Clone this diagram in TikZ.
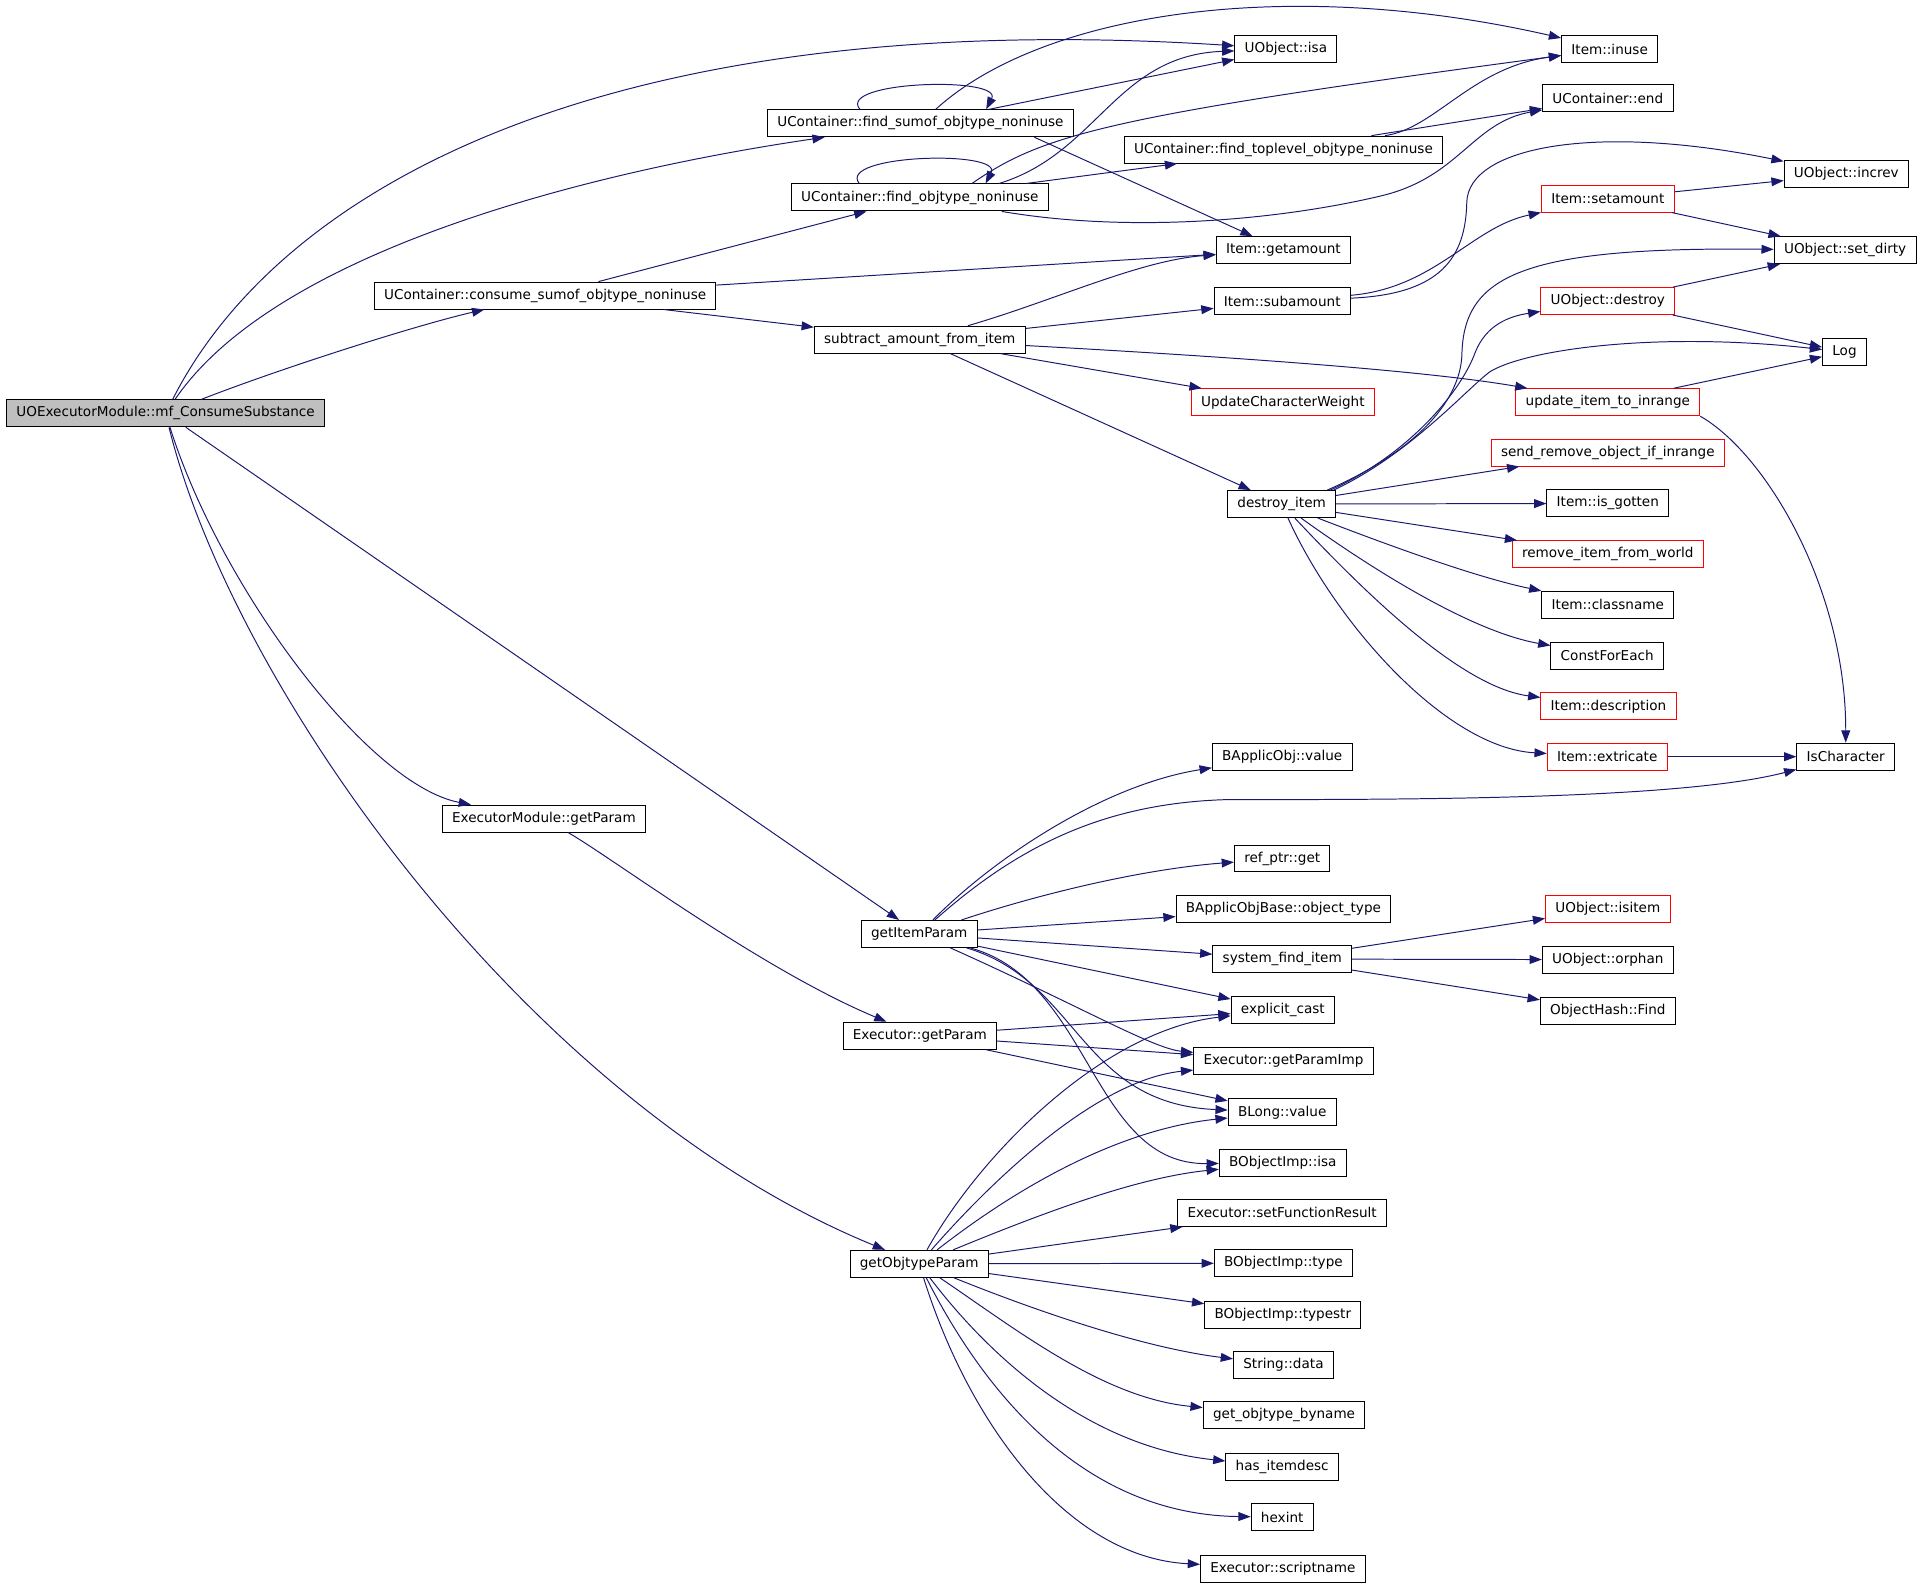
\documentclass[tikz,border=0pt]{standalone}
\usepackage{fontspec}
\setmainfont{DejaVu Sans}
\usepackage{tikz}
\usetikzlibrary{arrows.meta}

\definecolor{callblue}{RGB}{25,25,112}
\definecolor{rootgray}{RGB}{191,191,191}

\tikzset{
  fn/.style={draw=black, fill=white, line width=0.6pt, minimum height=16.5pt, inner xsep=6pt, inner ysep=0pt, font=\fontsize{8.3}{10}\selectfont},
  fnred/.style={fn, draw=red},
  fnroot/.style={fn, fill=rootgray},
  call/.style={draw=callblue, line width=0.6pt, -{Triangle[length=7.5pt,width=5.4pt]}}
}

\begin{document}
\begin{tikzpicture}[x=0.75pt,y=0.75pt,yscale=-1,xscale=1]
    \useasboundingbox (0,0) rectangle (1568,1294);

    % Caller
    \node[fnroot] (root) at (135,337) {UOExecutorModule::mf\_ConsumeSubstance};

    % Second column
    \node[fn] (fsum) at (750.5,100.5) {UContainer::find\_sumof\_objtype\_noninuse};
    \node[fn] (fobj) at (750,161) {UContainer::find\_objtype\_noninuse};
    \node[fn] (csum) at (444.5,241) {UContainer::consume\_sumof\_objtype\_noninuse};
    \node[fn] (subamt) at (750,277) {subtract\_amount\_from\_item};
    \node[fn] (emparam) at (443.5,667.5) {ExecutorModule::getParam};
    \node[fn] (itemparam) at (749.5,761.5) {getItemParam};
    \node[fn] (exparam) at (750,844.5) {Executor::getParam};
    \node[fn] (objparam) at (749.5,1030.5) {getObjtypeParam};

    % Third column
    \node[fn] (uisa) at (1048.5,40) {UObject::isa};
    \node[fn] (ftop) at (1046.5,122) {UContainer::find\_toplevel\_objtype\_noninuse};
    \node[fn] (getamt) at (1046.5,204) {Item::getamount};
    \node[fn] (subamount) at (1045.5,245.5) {Item::subamount};
    \node[fnred] (ucw) at (1046,328) {UpdateCharacterWeight};
    \node[fn] (destroyitem) at (1045,411) {destroy\_item};
    \node[fn] (bavalue) at (1045.5,617) {BApplicObj::value};
    \node[fn] (refget) at (1045.5,700) {ref\_ptr::get};
    \node[fn] (botype) at (1046.5,741.5) {BApplicObjBase::object\_type};
    \node[fn] (sysfind) at (1045.5,782) {system\_find\_item};
    \node[fn] (excast) at (1046,823.5) {explicit\_cast};
    \node[fn] (paramimp) at (1046.5,865) {Executor::getParamImp};
    \node[fn] (blong) at (1045.5,907) {BLong::value};
    \node[fn] (boisa) at (1046,948) {BObjectImp::isa};
    \node[fn] (setres) at (1045.5,989) {Executor::setFunctionResult};
    \node[fn] (bitype) at (1046.5,1030) {BObjectImp::type};
    \node[fn] (typestr) at (1046,1072) {BObjectImp::typestr};
    \node[fn] (strdata) at (1046.5,1113) {String::data};
    \node[fn] (byname) at (1047,1154) {get\_objtype\_byname};
    \node[fn] (hasdesc) at (1045.5,1196) {has\_itemdesc};
    \node[fn] (hexint) at (1045.5,1237) {hexint};
    \node[fn] (scriptname) at (1046,1279) {Executor::scriptname};

    % Fourth column
    \node[fn] (inuse) at (1312.5,40) {Item::inuse};
    \node[fn] (uend) at (1311,80) {UContainer::end};
    \node[fnred] (setamt) at (1311,162) {Item::setamount};
    \node[fnred] (udestroy) at (1311,245.5) {UObject::destroy};
    \node[fnred] (upd) at (1311,328) {update\_item\_to\_inrange};
    \node[fnred] (sendrm) at (1311,369) {send\_remove\_object\_if\_inrange};
    \node[fn] (isgotten) at (1311,410.5) {Item::is\_gotten};
    \node[fnred] (rmworld) at (1311,452) {remove\_item\_from\_world};
    \node[fn] (classname) at (1311,493) {Item::classname};
    \node[fn] (cfe) at (1310.5,534.5) {ConstForEach};
    \node[fnred] (desc) at (1311.5,576) {Item::description};
    \node[fnred] (extricate) at (1310.5,617) {Item::extricate};
    \node[fnred] (isitem) at (1311,741) {UObject::isitem};
    \node[fn] (orphan) at (1311,782.5) {UObject::orphan};
    \node[fn] (hfind) at (1311,824) {ObjectHash::Find};

    % Fifth column
    \node[fn] (increv) at (1505.5,142) {UObject::increv};
    \node[fn] (setdirty) at (1504.5,204) {UObject::set\_dirty};
    \node[fn] (logn) at (1504,287) {Log};
    \node[fn] (ischar) at (1505,617) {IsCharacter};

    % Calls from the caller
    \draw[call] (root) .. controls (230,150) and (500,5) .. (uisa);
    \draw[call] (root) .. controls (225,205) and (480,140) .. (fsum);
    \draw[call] (root) .. controls (230,300) and (340,265) .. (csum);
    \draw[call] (root) .. controls (180,480) and (300,640) .. (emparam);
    \draw[call] (root) -- (itemparam);
    \draw[call] (root) .. controls (190,560) and (430,900) .. (objparam);

    % find_sumof_objtype_noninuse
    \draw[call] (fsum.167) .. controls (682,66) and (818,62) .. (fsum.12);
    \draw[call] (fsum) -- (uisa);
    \draw[call] (fsum) .. controls (850,10) and (1050,-20) .. (inuse);
    \draw[call] (fsum.-7) -- (getamt);

    % find_objtype_noninuse
    \draw[call] (fobj.167) .. controls (682,126) and (818,122) .. (fobj.12);
    \draw[call] (fobj.10) .. controls (895,125) and (910,45) .. (uisa);
    \draw[call] (fobj.15) .. controls (850,110) and (900,95) .. (inuse);
    \draw[call] (fobj) -- (ftop);
    \draw[call] (fobj) .. controls (920,190) and (1040,180) .. (1125,160) .. controls (1190,145) and (1200,100) .. (uend);

    % find_toplevel_objtype_noninuse
    \draw[call] (ftop) .. controls (1170,105) and (1200,55) .. (inuse);
    \draw[call] (ftop) -- (uend);

    % consume_sumof_objtype_noninuse
    \draw[call] (csum) -- (fobj);
    \draw[call] (csum) -- (getamt);
    \draw[call] (csum) -- (subamt);

    % subtract_amount_from_item
    \draw[call] (subamt) .. controls (860,245) and (930,212) .. (getamt);
    \draw[call] (subamt) -- (subamount);
    \draw[call] (subamt) -- (ucw);
    \draw[call] (subamt) .. controls (950,288) and (1150,300) .. (upd);
    \draw[call] (subamt) -- (destroyitem);

    % Item::subamount
    \draw[call] (subamount) .. controls (1170,235) and (1200,185) .. (setamt);
    \draw[call] (subamount) .. controls (1175,240) and (1195,210) .. (1196,165) .. controls (1197,120) and (1300,100) .. (increv);

    % red callees
    \draw[call] (setamt) -- (increv);
    \draw[call] (setamt) -- (setdirty);
    \draw[call] (udestroy) -- (setdirty);
    \draw[call] (udestroy) -- (logn);
    \draw[call] (upd) -- (logn);
    \draw[call] (upd.south east) .. controls (1440,370) and (1505,480) .. (ischar);
    \draw[call] (extricate) -- (ischar);

    % destroy_item
    \draw[call] (destroyitem.17) .. controls (1150,370) and (1190,330) .. (1192,290) .. controls (1193,225) and (1240,201) .. (setdirty);
    \draw[call] (destroyitem.16) .. controls (1150,370) and (1192,318) .. (1203,287) .. controls (1212,265) and (1230,258) .. (udestroy);
    \draw[call] (destroyitem.15) .. controls (1150,370) and (1195,318) .. (1215,303) .. controls (1245,285) and (1350,270) .. (logn);
    \draw[call] (destroyitem) -- (sendrm);
    \draw[call] (destroyitem) -- (isgotten);
    \draw[call] (destroyitem) -- (rmworld);
    \draw[call] (destroyitem) .. controls (1120,440) and (1200,470) .. (classname);
    \draw[call] (destroyitem) .. controls (1120,465) and (1200,515) .. (cfe);
    \draw[call] (destroyitem) .. controls (1110,480) and (1190,560) .. (desc);
    \draw[call] (destroyitem) .. controls (1090,510) and (1180,610) .. (extricate);

    % getItemParam
    \draw[call] (itemparam) .. controls (810,700) and (900,640) .. (bavalue);
    \draw[call] (itemparam) .. controls (830,690) and (900,655) .. (1000,652) .. controls (1150,652) and (1370,652) .. (ischar);
    \draw[call] (itemparam) .. controls (860,725) and (940,708) .. (refget);
    \draw[call] (itemparam) -- (botype);
    \draw[call] (itemparam) -- (sysfind);
    \draw[call] (itemparam) -- (excast);
    \draw[call] (itemparam) .. controls (880,820) and (940,855) .. (paramimp);
    \draw[call] (itemparam) .. controls (880,800) and (880,900) .. (blong);
    \draw[call] (itemparam) .. controls (890,800) and (890,950) .. (boisa);

    % Executor::getParam
    \draw[call] (emparam) .. controls (500,700) and (620,790) .. (exparam);
    \draw[call] (exparam) -- (excast);
    \draw[call] (exparam) -- (paramimp);
    \draw[call] (exparam) -- (blong);

    % system_find_item
    \draw[call] (sysfind) -- (isitem);
    \draw[call] (sysfind) -- (orphan);
    \draw[call] (sysfind) -- (hfind);

    % getObjtypeParam
    \draw[call] (objparam) .. controls (800,940) and (900,840) .. (excast);
    \draw[call] (objparam) .. controls (820,950) and (900,880) .. (paramimp);
    \draw[call] (objparam) .. controls (840,960) and (920,920) .. (blong);
    \draw[call] (objparam) .. controls (860,985) and (930,960) .. (boisa);
    \draw[call] (objparam) -- (setres);
    \draw[call] (objparam) -- (bitype);
    \draw[call] (objparam) -- (typestr);
    \draw[call] (objparam) .. controls (860,1075) and (940,1100) .. (strdata);
    \draw[call] (objparam) .. controls (830,1085) and (900,1140) .. (byname);
    \draw[call] (objparam) .. controls (810,1110) and (890,1180) .. (hasdesc);
    \draw[call] (objparam) .. controls (800,1130) and (880,1235) .. (hexint);
    \draw[call] (objparam) .. controls (790,1160) and (870,1270) .. (scriptname);

\end{tikzpicture}
\end{document}
